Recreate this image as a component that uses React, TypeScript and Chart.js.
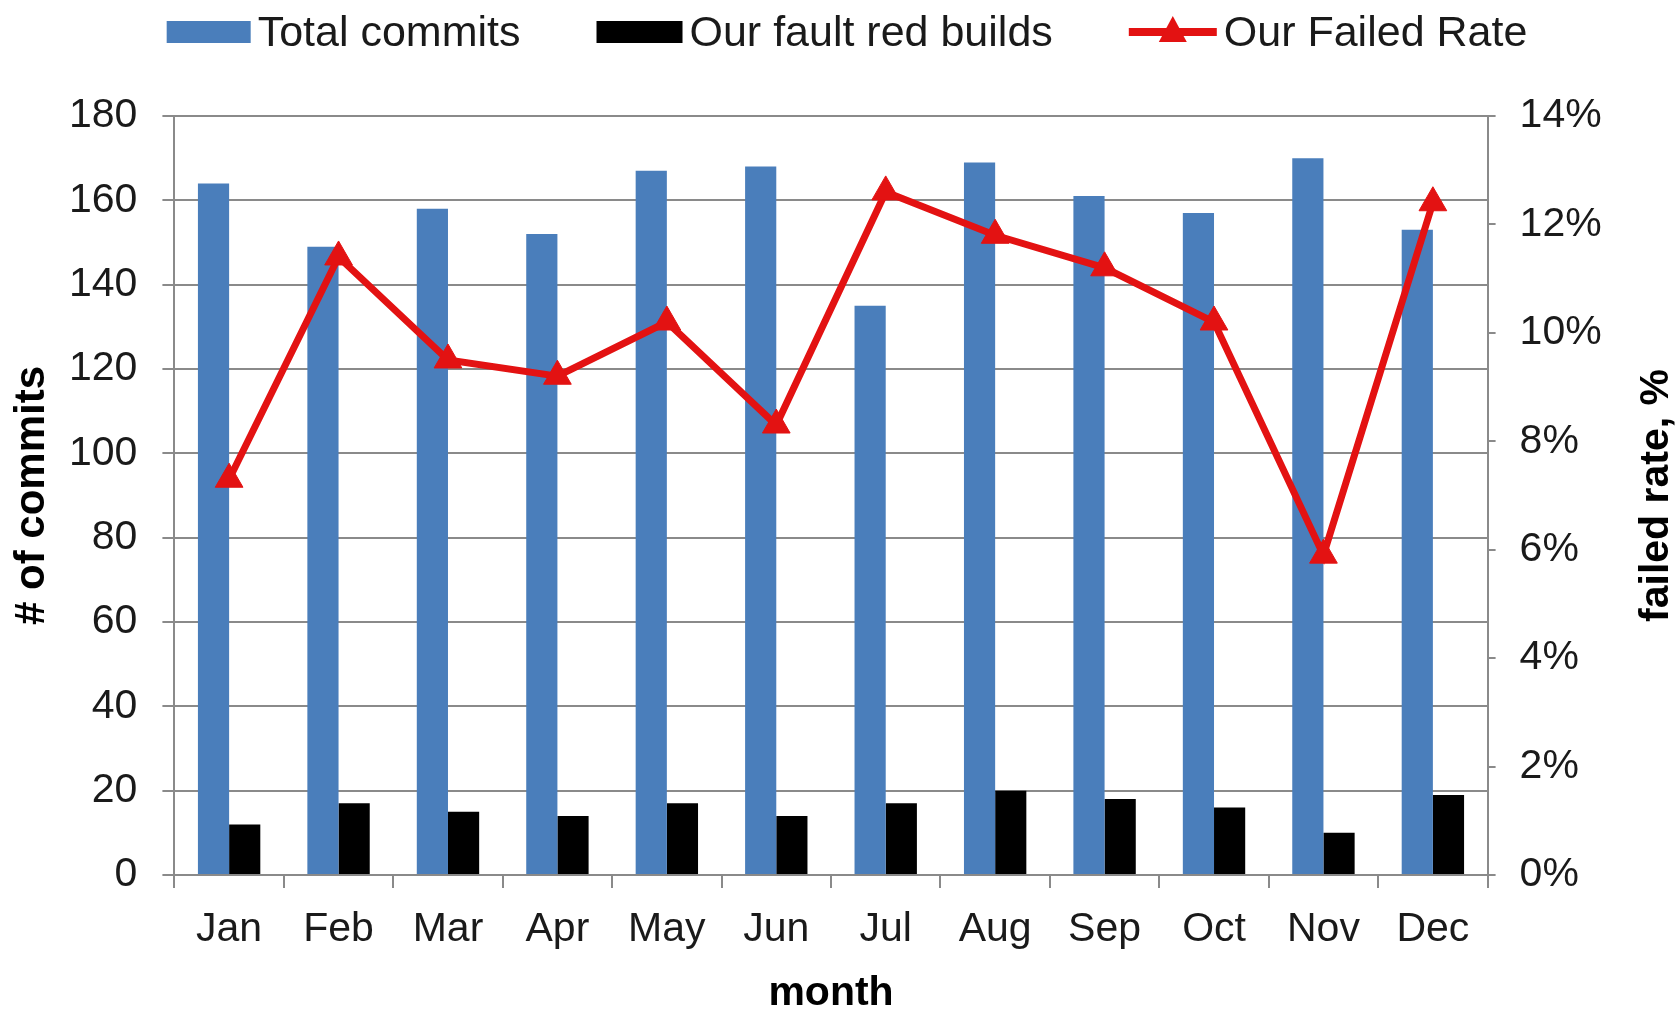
import React, { useEffect, useRef } from 'react';
import { Chart, registerables } from 'chart.js';

Chart.register(...registerables);

// ---- data ----
const months = ['Jan', 'Feb', 'Mar', 'Apr', 'May', 'Jun', 'Jul', 'Aug', 'Sep', 'Oct', 'Nov', 'Dec'];
const totalCommits = [164, 149, 158, 152, 167, 168, 135, 169, 161, 157, 170, 153];
const faultRedBuilds = [12, 17, 15, 14, 17, 14, 17, 20, 18, 16, 10, 19];
const failedRatePct = [7.3, 11.4, 9.5, 9.2, 10.2, 8.3, 12.6, 11.8, 11.2, 10.2, 5.9, 12.4];
const seriesLabels = ['Total commits', 'Our fault red builds', 'Our Failed Rate'];
const commitsAxis = { min: 0, max: 180, step: 20 };
const rateAxis = { min: 0, max: 14, step: 2 };
const axisTitles = { x: 'month', y: '# of commits', y1: 'failed rate, %' };

// ---- styles ----
const BLUE = '#4a7ebb';
const BLACK = '#000000';
const RED = '#e31212';
const GRID = '#8a8a8a';
const TEXT = '#1a1a1a';
const FONT = '"Liberation Sans", Arial, Helvetica, sans-serif';
const W = 1678;
const H = 1010;

const legendAndTitlePlugin = {
  id: 'legendAndTitle',
  afterDraw(chart: any) {
    const ctx = chart.ctx as CanvasRenderingContext2D;
    const ds = chart.data.datasets;
    ctx.save();
    ctx.font = `43px ${FONT}`;
    ctx.textBaseline = 'middle';
    ctx.textAlign = 'left';
    const boxW = [84, 86, 88];
    const gapText = 7;
    const gapItem = 76;
    const widths = ds.map((d: any, i: number) => boxW[i] + gapText + ctx.measureText(d.label).width);
    const total = widths.reduce((a: number, b: number) => a + b, 0) + gapItem * (ds.length - 1);
    let x = chart.width / 2 + 8 - total / 2;
    const cy = 32;
    ds.forEach((d: any, i: number) => {
      if (d.type === 'line') {
        ctx.strokeStyle = d.borderColor;
        ctx.lineWidth = 8;
        ctx.beginPath();
        ctx.moveTo(x, cy);
        ctx.lineTo(x + boxW[i], cy);
        ctx.stroke();
        const mx = x + boxW[i] / 2;
        ctx.fillStyle = d.borderColor;
        ctx.beginPath();
        ctx.moveTo(mx, cy - 16);
        ctx.lineTo(mx + 14, cy + 10);
        ctx.lineTo(mx - 14, cy + 10);
        ctx.closePath();
        ctx.fill();
      } else {
        ctx.fillStyle = d.backgroundColor;
        ctx.fillRect(x, cy - 11, boxW[i], 22);
      }
      ctx.fillStyle = TEXT;
      ctx.fillText(d.label, x + boxW[i] + gapText, cy + 2);
      x += widths[i] + gapItem;
    });

    // right axis title, reading bottom-to-top
    const area = chart.chartArea;
    ctx.translate(chart.width - 21, (area.top + area.bottom) / 2);
    ctx.rotate(-Math.PI / 2);
    ctx.font = `bold 41px ${FONT}`;
    ctx.textAlign = 'center';
    ctx.fillStyle = '#000';
    ctx.fillText(axisTitles.y1, 0, 0);
    ctx.restore();
  },
};

export default function App() {
  const canvasRef = useRef<HTMLCanvasElement | null>(null);

  useEffect(() => {
    if (!canvasRef.current) return;
    const tickFont = { family: FONT, size: 41 };
    const chart = new Chart(canvasRef.current, {
      type: 'bar',
      data: {
        labels: months,
        datasets: [
          {
            type: 'bar',
            label: seriesLabels[0],
            data: totalCommits,
            backgroundColor: BLUE,
            yAxisID: 'y',
            barPercentage: 1,
            categoryPercentage: 0.57,
            order: 1,
          },
          {
            type: 'bar',
            label: seriesLabels[1],
            data: faultRedBuilds,
            backgroundColor: BLACK,
            yAxisID: 'y',
            barPercentage: 1,
            categoryPercentage: 0.57,
            order: 1,
          },
          {
            type: 'line',
            label: seriesLabels[2],
            data: failedRatePct,
            borderColor: RED,
            backgroundColor: RED,
            borderWidth: 7,
            pointStyle: 'triangle',
            pointRadius: 16,
            pointBackgroundColor: RED,
            pointBorderColor: RED,
            pointBorderWidth: 1,
            tension: 0,
            yAxisID: 'y1',
            order: 0,
          } as any,
        ],
      },
      options: {
        animation: false,
        responsive: false,
        devicePixelRatio: 1,
        layout: { padding: { top: 116, left: 0, right: 0, bottom: 0 } },
        plugins: {
          legend: { display: false },
          tooltip: { enabled: false },
        },
        scales: {
          x: {
            grid: {
              display: true,
              drawOnChartArea: false,
              drawTicks: true,
              tickLength: 13,
              offset: true,
              color: GRID,
              lineWidth: 2,
            },
            border: { display: true, color: GRID, width: 2 },
            ticks: { font: tickFont, color: TEXT, padding: 17, maxRotation: 0 },
            title: {
              display: true,
              text: axisTitles.x,
              font: { family: FONT, size: 41, weight: 'bold', lineHeight: 0.8 },
              color: '#000',
              padding: { top: 0, bottom: 0 },
            },
            afterFit: (scale: any) => {
              scale.height = 135;
            },
          },
          y: {
            position: 'left',
            min: commitsAxis.min,
            max: commitsAxis.max,
            ticks: { stepSize: commitsAxis.step, font: tickFont, color: TEXT, padding: 25 },
            grid: { color: GRID, lineWidth: 2, tickLength: 12, drawTicks: true },
            border: { display: true, color: GRID, width: 2 },
            title: {
              display: true,
              text: axisTitles.y,
              font: { family: FONT, size: 42, weight: 'bold', lineHeight: 1 },
              color: '#000',
              padding: { top: 11, bottom: 0 },
            },
            afterFit: (scale: any) => {
              scale.width = 174.4;
            },
          },
          y1: {
            position: 'right',
            min: rateAxis.min,
            max: rateAxis.max,
            ticks: {
              stepSize: rateAxis.step,
              font: tickFont,
              color: TEXT,
              padding: 24,
              callback: (v: any) => `${v}%`,
            },
            grid: { drawOnChartArea: false, color: GRID, lineWidth: 2, tickLength: 8, drawTicks: true },
            border: { display: true, color: GRID, width: 2 },
            title: { display: false },
            afterFit: (scale: any) => {
              scale.width = 190.4;
            },
          },
        },
      },
      plugins: [legendAndTitlePlugin],
    } as any);
    return () => chart.destroy();
  }, []);

  return (
    <div style={{ position: 'fixed', left: 0, top: 0, width: W, height: H, background: '#fff' }}>
      <canvas ref={canvasRef} width={W} height={H} style={{ display: 'block', width: W, height: H }} />
    </div>
  );
}
